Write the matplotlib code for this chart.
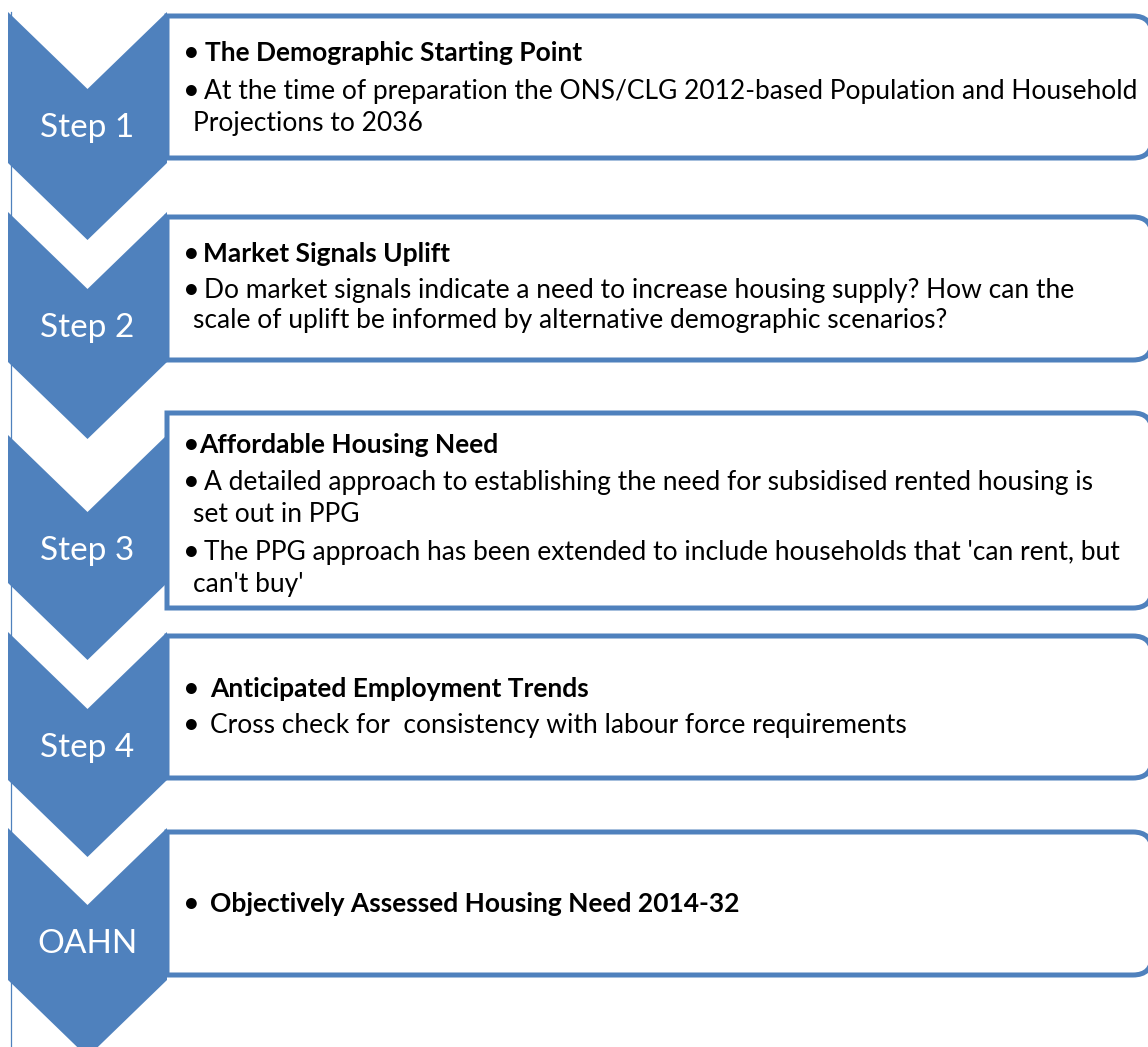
import matplotlib
matplotlib.use("Agg")
import matplotlib.pyplot as plt
from matplotlib.patches import Polygon, PathPatch
from matplotlib.path import Path

# ---- content ----
step_labels = ["Step 1", "Step 2", "Step 3", "Step 4", "OAHN"]
headers = ["The Demographic Starting Point", "Market Signals Uplift",
           "Affordable Housing Need", "Anticipated Employment Trends",
           "Objectively Assessed Housing Need 2014-32"]
bodies = [
    [["At the time of preparation the ONS/CLG 2012-based Population and Household",
      "Projections to 2036"]],
    [["Do market signals indicate a need to increase housing supply? How can the",
      "scale of uplift be informed by alternative demographic scenarios?"]],
    [["A detailed approach to establishing the need for subsidised rented housing is",
      "set out in PPG"],
     ["The PPG approach has been extended to include households that 'can rent, but",
      "can't buy'"]],
    [["Cross check for  consistency with labour force requirements"]],
    [],
]

# ---- layout (pixels) ----
W, H = 1148, 1047
BLUE = "#4F81BD"
chev_top = [12, 212, 435, 632, 828]
chev_side_end = [163, 362, 583, 780, 980]
chev_x0, chev_x1, vdepth = 8, 167, 77
box_y = [(16, 158), (217, 360), (413, 608), (636, 778), (832, 975)]
box_x0, box_x1, radius = 167, 1152, 19
label_base = [137, 337, 560, 757, 953]
header_base = [61, 262, 453, 697, 912]
header_text_x = [205, 203, 199, 210, 210]
bullet_x = 183
cont_x = 193
body_bases = [[[99, 131]], [[298, 328]], [[490, 522], [560, 592]], [[733]], []]
body_text_x = [204, 204, 204, 210, 210]

FONT = "Lato"
fs_body = 19.0
fs_bullet = 21
fs_label = 24

fig = plt.figure(figsize=(W / 100, H / 100), dpi=100)
ax = fig.add_axes([0, 0, 1, 1])
ax.set_xlim(0, W)
ax.set_ylim(H, 0)
ax.axis("off")

# thin vertical connector line
ax.plot([11, 11], [12, H], color=BLUE, lw=0.9, zorder=1)

cx = (chev_x0 + chev_x1) / 2
for i, lab in enumerate(step_labels):
    t, s = chev_top[i], chev_side_end[i]
    poly = Polygon([(chev_x0, t), (cx, t + vdepth), (chev_x1, t), (chev_x1, s),
                    (cx, s + vdepth), (chev_x0, s)], closed=True,
                   facecolor=BLUE, edgecolor="none", zorder=2)
    ax.add_patch(poly)
    ax.text(cx, label_base[i], lab, color="white", fontsize=fs_label,
            family=FONT, ha="center", va="baseline", zorder=5)

    y0, y1 = box_y[i]
    verts = [(box_x0, y0), (box_x1 - radius, y0), (box_x1, y0), (box_x1, y0 + radius),
             (box_x1, y1 - radius), (box_x1, y1), (box_x1 - radius, y1),
             (box_x0, y1), (box_x0, y0)]
    codes = [Path.MOVETO, Path.LINETO, Path.CURVE3, Path.CURVE3, Path.LINETO,
             Path.CURVE3, Path.CURVE3, Path.LINETO, Path.CLOSEPOLY]
    ax.add_patch(PathPatch(Path(verts, codes), facecolor="white", edgecolor=BLUE,
                           lw=3.6, zorder=3, joinstyle="miter"))

    # header
    ax.text(bullet_x, header_base[i], "•", fontsize=fs_bullet, family=FONT,
            ha="left", va="baseline", zorder=5)
    ax.text(header_text_x[i], header_base[i], headers[i], fontsize=fs_body,
            family=FONT, weight="bold", ha="left", va="baseline", zorder=5)
    # bodies
    for para, bases in zip(bodies[i], body_bases[i]):
        for j, (line, yb) in enumerate(zip(para, bases)):
            if j == 0:
                ax.text(bullet_x, yb, "•", fontsize=fs_bullet, family=FONT,
                        ha="left", va="baseline", zorder=5)
                ax.text(body_text_x[i], yb, line, fontsize=fs_body,
                        family=FONT, ha="left", va="baseline", zorder=5)
            else:
                ax.text(cont_x, yb, line, fontsize=fs_body, family=FONT,
                        ha="left", va="baseline", zorder=5)

fig.savefig("out.png", dpi=100)
